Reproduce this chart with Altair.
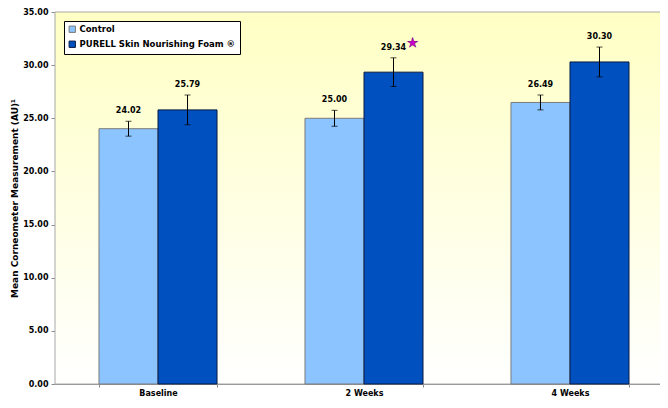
import altair as alt
import pandas as pd

categories = ["Baseline", "2 Weeks", "4 Weeks"]
series = ["Control", "PURELL Skin Nourishing Foam ®"]
control = [24.02, 25.00, 26.49]
purell = [25.79, 29.34, 30.30]
control_err = [0.70, 0.75, 0.70]
purell_err = [1.40, 1.35, 1.40]
purell_sig = ["", "★", ""]
y_ticks = [0, 5, 10, 15, 20, 25, 30, 35]

rows = []
for i, c in enumerate(categories):
    rows.append(dict(cat=c, series=series[0], value=control[i], err=control_err[i], sig=""))
    rows.append(dict(cat=c, series=series[1], value=purell[i], err=purell_err[i], sig=purell_sig[i]))
df = pd.DataFrame(rows)
df["lo"] = df["value"] - df["err"]
df["hi"] = df["value"] + df["err"]

W, H = 605, 372
FONT = "DejaVu Sans"

x = alt.X(
    "cat:N", sort=categories,
    scale=alt.Scale(range=[0, 618], paddingInner=0.427, paddingOuter=0.2136),
    axis=alt.Axis(title=None, labelAngle=0, labelFont=FONT, labelFontSize=8,
                  labelFontWeight="bold", labelColor="#000", domainColor="#8c8c8c",
                  tickColor="#8c8c8c", tickSize=3, tickBand="extent", labelPadding=2,
                  labelBaseline="top"),
)
xo = alt.XOffset("series:N", sort=series, scale=alt.Scale(paddingInner=0, paddingOuter=0))
yscale = alt.Scale(domain=[0, 35], nice=False, zero=True)

base = alt.Chart(df)

bg = alt.Chart(pd.DataFrame({"a": [0]})).mark_rect(
    color=alt.Gradient(
        gradient="linear",
        stops=[alt.GradientStop(color="#FFFFC4", offset=0),
               alt.GradientStop(color="#FFFFFF", offset=1)],
        x1=0, x2=0, y1=0, y2=1),
    stroke="#a8a8a8", strokeWidth=1,
).encode(x=alt.value(0), x2=alt.value(W + 20), y=alt.value(0), y2=alt.value(H))

bars = base.mark_bar(strokeWidth=1).encode(
    x=x, xOffset=xo,
    y=alt.Y("value:Q", scale=yscale,
            axis=alt.Axis(values=y_ticks, format=".2f",
                          title="Mean Corneometer Measurement (AU)¹",
                          titleFont=FONT, titleFontSize=9, titleFontWeight="bold",
                          titleColor="#000", titlePadding=3,
                          labelFont=FONT, labelFontSize=8, labelFontWeight="bold",
                          labelColor="#000", grid=False, domainColor="#8c8c8c",
                          tickColor="#8c8c8c", tickSize=4, labelPadding=3)),
    color=alt.Color("series:N", sort=series,
                    scale=alt.Scale(domain=series, range=["#8CC4FF", "#0050C0"]),
                    legend=alt.Legend(title=None, orient="none", legendX=9, legendY=9,
                                      fillColor="#FFFFFF", strokeColor="#000",
                                      padding=4, symbolType="square", symbolSize=40,
                                      symbolStrokeColor="#222", symbolStrokeWidth=1,
                                      labelFont=FONT, labelFontSize=8.5,
                                      labelFontWeight="bold", labelColor="#000",
                                      labelOffset=3, rowPadding=4)),
    stroke=alt.Stroke("series:N", scale=alt.Scale(domain=series, range=["#7a7a7a", "#0a1a40"]),
                      legend=None),
)

rules = base.mark_rule(color="#000", strokeWidth=1).encode(
    x=x, xOffset=xo, y=alt.Y("lo:Q", scale=yscale), y2="hi:Q")
cap_hi = base.mark_tick(color="#000", size=6, thickness=1).encode(
    x=x, xOffset=xo, y=alt.Y("hi:Q", scale=yscale))
cap_lo = base.mark_tick(color="#000", size=6, thickness=1).encode(
    x=x, xOffset=xo, y=alt.Y("lo:Q", scale=yscale))

labels = base.mark_text(font=FONT, fontSize=8, fontWeight="bold", color="#000",
                        baseline="middle", dy=-10).encode(
    x=x, xOffset=xo, y=alt.Y("hi:Q", scale=yscale),
    text=alt.Text("value:Q", format=".2f"))

stars = base.mark_text(font=FONT, fontSize=13, color="#CC00CC",
                       stroke="#800080", strokeWidth=0.5,
                       baseline="middle", dx=19, dy=-15).encode(
    x=x, xOffset=xo, y=alt.Y("hi:Q", scale=yscale), text="sig:N")

chart = alt.layer(bg, bars, rules, cap_hi, cap_lo, labels, stars).properties(
    width=W, height=H,
    autosize=alt.AutoSizeParams(type="none"),
    padding={"left": 47, "top": 4, "right": 0, "bottom": 16},
).configure_view(stroke=None).configure(background="#FFFFFF")

chart.save("out.html", embed_options={"renderer": "svg", "actions": False})
